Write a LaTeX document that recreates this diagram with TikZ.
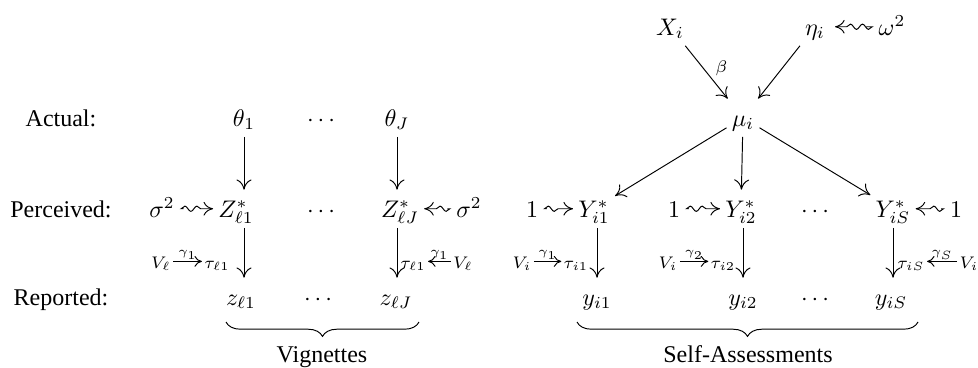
\documentclass[tikz,border=0pt]{standalone}
\usepackage{amsmath}
\usepackage{fontspec}
\setmainfont{Liberation Serif}
\usetikzlibrary{arrows.meta,decorations.pathmorphing,decorations.pathreplacing}

\begin{document}
\begin{tikzpicture}[x=0.4167pt,y=-0.4167pt,
      every node/.style={anchor=base,inner sep=2pt},
      var/.style={text height=2ex,text depth=0.5ex},
      small/.style={font=\scriptsize,inner sep=0.8pt,text height=1.6ex,text depth=0.4ex},
      glabel/.style={font=\tiny,inner sep=0.6pt,anchor=south},
      arr/.style={-{To[length=1.5mm,width=2.2mm]},thin},
      sarr/.style={-{To[length=1.1mm,width=1.6mm]},thin},
      wavy/.style={-{To[length=1.4mm,width=2mm]},thin,decorate,shorten <=1.5pt,
                   decoration={snake,amplitude=1.1pt,segment length=5pt,
                               pre length=0.5pt,post length=1.6mm}},
      brc/.style={decorate,decoration={brace,mirror,amplitude=6pt},thin}]
    \useasboundingbox (0,0) rectangle (978,367);
    % row labels
    \node (act) at (61,126) {Actual:};
    \node (per) at (61,217) {Perceived:};
    \node (rep) at (61,305) {Reported:};
    % vignettes
    \node[var] (th1)  at (244,126) {$\theta_1$};
    \node[var] (dtA)  at (323,126) {$\cdots$};
    \node[var] (thJ)  at (397,126) {$\theta_J$};
    \node[var] (sgL)  at (162,217) {$\sigma^2$};
    \node[var] (Zl1)  at (236,217) {$Z^*_{\ell 1}$};
    \node[var] (dtP)  at (323,217) {$\cdots$};
    \node[var] (ZlJ)  at (400,217) {$Z^*_{\ell J}$};
    \node[var] (sgR)  at (469,217) {$\sigma^2$};
    \node[small] (Vl1) at (161,268) {$V_\ell$};
    \node[small] (tl1) at (217,268) {$\tau_{\ell 1}$};
    \node[small] (tlJ) at (413,268) {$\tau_{\ell 1}$};
    \node[small] (VlJ) at (463,268) {$V_\ell$};
    \node[var] (zl1)  at (241,305) {$z_{\ell 1}$};
    \node[var] (dtR)  at (320,305) {$\cdots$};
    \node[var] (zlJ)  at (396,305) {$z_{\ell J}$};
    \coordinate (bv1) at (226,322);
    \coordinate (bv2) at (419,322);
    \node (vig) at (322,362) {Vignettes};
    % self-assessments
    \node[var] (Xi)   at (670,35) {$X_i$};
    \node[var] (eta)  at (815,35) {$\eta_i$};
    \node[var] (om)   at (892,35) {$\omega^2$};
    \node[var] (mu)   at (743,126) {$\mu_i$};
    \node[var] (one1) at (532,217) {$1$};
    \node[var] (Yi1)  at (594,217) {$Y^*_{i1}$};
    \node[var] (one2) at (674,217) {$1$};
    \node[var] (Yi2)  at (741,217) {$Y^*_{i2}$};
    \node[var] (dtY)  at (817,217) {$\cdots$};
    \node[var] (YiS)  at (893,217) {$Y^*_{iS}$};
    \node[var] (oneS) at (956,217) {$1$};
    \node[small] (Vi1) at (522,268) {$V_i$};
    \node[small] (ti1) at (576,268) {$\tau_{i1}$};
    \node[small] (Vi2) at (668,268) {$V_i$};
    \node[small] (ti2) at (723,268) {$\tau_{i2}$};
    \node[small] (tiS) at (911,268) {$\tau_{iS}$};
    \node[small] (ViS) at (969,268) {$V_i$};
    \node[var] (yi1)  at (597,305) {$y_{i1}$};
    \node[var] (yi2)  at (743,305) {$y_{i2}$};
    \node[var] (dty)  at (817,305) {$\cdots$};
    \node[var] (yiS)  at (891,305) {$y_{iS}$};
    \coordinate (bs1) at (577,322);
    \coordinate (bs2) at (918,322);
    \node (sas) at (748,362) {Self-Assessments};

    % vignette connectors
    \draw[arr] (th1.south) -- (th1.south |- Zl1.north);
    \draw[arr] (thJ.south) -- (thJ.south |- ZlJ.north);
    \draw[arr] (th1 |- Zl1.south) -- (th1 |- zl1.north);
    \draw[arr] (thJ |- ZlJ.south) -- (thJ |- zlJ.north);
    \draw[wavy] (sgL.east) -- (sgL.east -| Zl1.west);
    \draw[wavy] (sgR.west) -- (sgR.west -| ZlJ.east);
    \draw[sarr] (Vl1.east) -- node[glabel]{$\gamma_1$} (Vl1.east -| tl1.west);
    \draw[sarr] (VlJ.west) -- node[glabel]{$\gamma_1$} (VlJ.west -| tlJ.east);
    \draw[brc] (bv1) -- (bv2);
    % self-assessment connectors
    \draw[arr] (Xi) -- node[font=\scriptsize,anchor=west,pos=0.42,xshift=3pt]{$\beta$} (mu);
    \draw[arr] (eta) -- (mu);
    \draw[wavy,shorten <=3pt,shorten >=2pt] (om.west) -- (om.west -| eta.east);
    \draw[arr] (mu) -- (Yi1);
    \draw[arr] (mu) -- (Yi2);
    \draw[arr] (mu) -- (YiS);
    \draw[wavy] (one1.east) -- (one1.east -| Yi1.west);
    \draw[wavy] (one2.east) -- (one2.east -| Yi2.west);
    \draw[wavy] (oneS.west) -- (oneS.west -| YiS.east);
    \draw[arr] (yi1 |- Yi1.south) -- (yi1.north);
    \draw[arr] (yi2 |- Yi2.south) -- (yi2.north);
    \draw[arr] (YiS.south) -- (YiS.south |- yiS.north);
    \draw[sarr] (Vi1.east) -- node[glabel]{$\gamma_1$} (Vi1.east -| ti1.west);
    \draw[sarr] (Vi2.east) -- node[glabel]{$\gamma_2$} (Vi2.east -| ti2.west);
    \draw[sarr] (ViS.west) -- node[glabel]{$\gamma_S$} (ViS.west -| tiS.east);
    \draw[brc] (bs1) -- (bs2);
  \end{tikzpicture}
\end{document}
